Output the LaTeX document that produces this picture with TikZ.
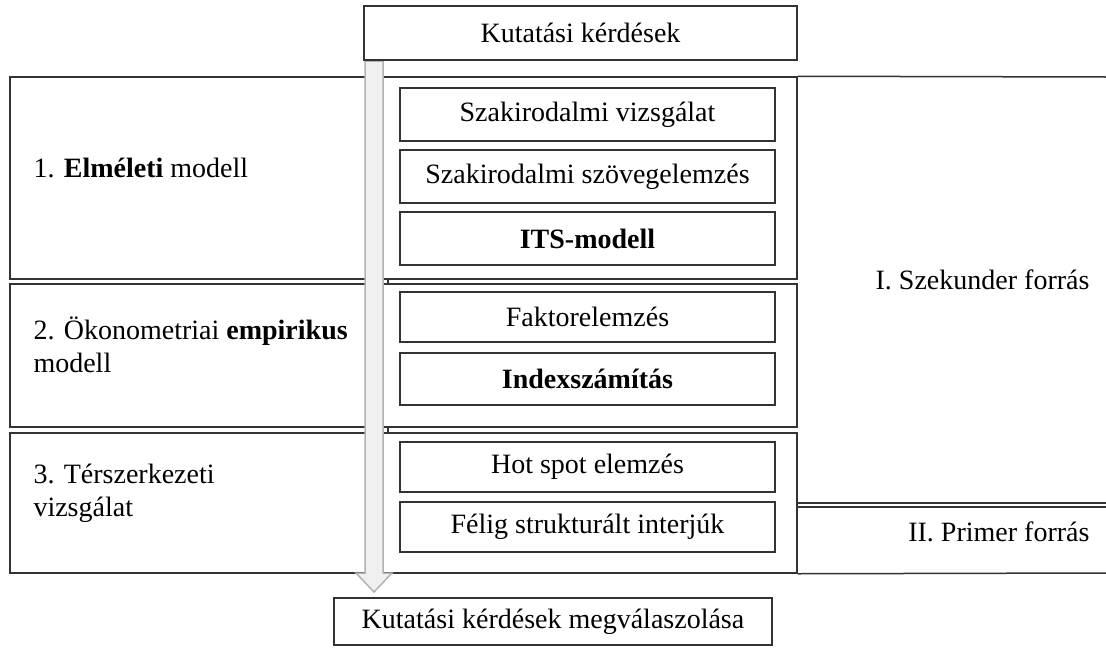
\documentclass[tikz,border=0pt]{standalone}
\usepackage{fontspec}
\setmainfont{Liberation Serif}

\begin{document}
\begin{tikzpicture}[x=1pt,y=-1pt,
    every node/.style={font=\fontsize{28}{33}\selectfont},
    frame/.style={draw=black!80, line width=1.5pt, inner sep=0pt},
    stepbox/.style={frame, minimum width=375pt},
    rowbox/.style={frame, minimum width=787pt},
    rule/.style={draw=black!80, line width=1.5pt},
    flow/.style={draw=black!30, fill=black!6, line width=1.5pt, line join=miter}]
    \useasboundingbox (0,0) rectangle (1106,648);
    % rows
    \node[rowbox, minimum height=202pt] (row1) at (403.5,178) {};
    \node[rowbox, minimum height=143pt] (row2) at (403.5,355.5) {};
    \node[rowbox, minimum height=140pt] (row3) at (403.5,503) {};
    \draw[rule] (388,279) -- (388,284);
    \draw[rule] (388,427) -- (388,433);
    % source column
    \coordinate (srcA) at (1106,77);
    \coordinate (srcB) at (1106,503);
    \coordinate (srcC) at (1106,507);
    \coordinate (srcD) at (1106,573);
    \draw[rule] (row1.north east) -- (srcA);
    \draw[rule] (row3.east |- srcB) -- (srcB);
    \draw[rule] (row3.east |- srcC) -- (srcC);
    \draw[rule] (row3.south east) -- (srcD);
    \node[anchor=east] (sec) at (1093,280) {I. Szekunder forrás};
    \node[anchor=east] (prim) at (1093,532) {II. Primer forrás};
    % arrow
    \draw[flow] (365,61) -- (383,61) -- (383,573) -- (392,573) -- (374,592)
        -- (356,573) -- (365,573) -- cycle;
    \node[frame, minimum width=433pt, minimum height=54pt] (top) at (580.5,33) {Kutatási kérdések};
    \node[frame, minimum width=438pt, minimum height=47pt] (answer) at (553,621.5) {Kutatási kérdések megválaszolása};
    % labels of the rows
    \node[anchor=west] (lab1) at (30,168) {1. \textbf{Elméleti} modell};
    \node[anchor=west, align=left] (lab2) at (30,345) {2. Ökonometriai \textbf{empirikus}\\modell};
    \node[anchor=west, align=left] (lab3) at (30,493) {3. Térszerkezeti\\vizsgálat};
    % steps
    \node[stepbox, minimum height=53pt] (lit) at (587.5,114.5) {Szakirodalmi vizsgálat};
    \node[stepbox, minimum height=53pt] (text) at (587.5,176.5) {Szakirodalmi szövegelemzés};
    \node[stepbox, minimum height=53pt] (its) at (587.5,238.5) {\textbf{ITS-modell}};
    \node[stepbox, minimum height=50pt] (fact) at (587.5,317) {Faktorelemzés};
    \node[stepbox, minimum height=52pt] (index) at (587.5,379) {\textbf{Indexszámítás}};
    \node[stepbox, minimum height=50pt] (hot) at (587.5,467) {Hot spot elemzés};
    \node[stepbox, minimum height=50pt] (intv) at (587.5,527) {Félig strukturált interjúk};
\end{tikzpicture}
\end{document}
